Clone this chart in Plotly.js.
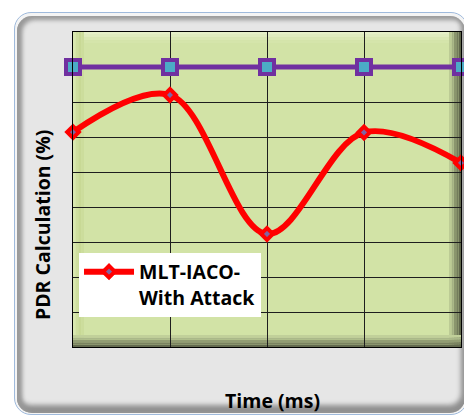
<!DOCTYPE html>
<html>
<head>
<meta charset="utf-8">
<script src="https://cdn.plot.ly/plotly-3.0.1.min.js"></script>
<style>
  html, body { margin: 0; padding: 0; background: #ffffff; overflow: hidden; }
  #wrap { position: relative; width: 464px; height: 419px; }
  #frameOuter {
    position: absolute; left: 14px; top: 12px; width: 452px; height: 401px;
    border: 1px solid #9fbadc; border-radius: 17px; background: #f4f4f4;
  }
  #frameInner {
    position: absolute; left: 2px; top: 3px; right: 2px; bottom: 1px;
    border-radius: 15px; background: #e6e6e6;
    box-shadow: inset 3px 2px 4px 2px #9a9a9a, inset -1px -5px 5px 3px #8f8f8f;
  }
  #chart { position: absolute; left: 0; top: 0; width: 464px; height: 419px; }
</style>
</head>
<body>
<div id="wrap">
  <div id="frameOuter"><div id="frameInner"></div></div>
  <div id="chart"></div>
</div>
<script>
// Time steps along the x axis (no tick labels are shown)
const timeSteps = [1, 2, 3, 4, 5];
// PDR (%) of the reference protocol, flat across the run
const pdrBaseline = [80, 80, 80, 80, 80];
// PDR (%) of MLT-IACO while under attack
const pdrWithAttack = [61.4, 72.0, 32.3, 61.3, 52.6];

const legendLabel = 'MLT-IACO-<br>With Attack';
const fontFamily = '"Open Sans", Lato, "DejaVu Sans", sans-serif';

// Bevelled edge of the plot area, drawn as thin bands in axis-domain units
const plotW = 388, plotH = 315;
function bands(side, colors, px) {
  const out = [];
  const n = colors.length;
  for (let i = 0; i < n; i++) {
    const a = i * px / n, b = (i + 1) * px / n;
    let s = { type: 'rect', xref: 'x domain', yref: 'y domain', layer: 'below',
              line: { width: 0 }, fillcolor: colors[i] };
    if (side === 'top')    Object.assign(s, { x0: 0, x1: 1, y0: 1 - b / plotH, y1: 1 - a / plotH });
    if (side === 'left')   Object.assign(s, { x0: a / plotW, x1: b / plotW, y0: 0, y1: 1 });
    if (side === 'right')  Object.assign(s, { x0: 1 - b / plotW, x1: 1 - a / plotW, y0: 0, y1: 1 });
    if (side === 'bottom') Object.assign(s, { x0: 0, x1: 1, y0: a / plotH, y1: b / plotH });
    out.push(s);
  }
  return out;
}
const shapes = [].concat(
  bands('top',    ['#e6f0c8', '#e0ecbe', '#dae8b3', '#d5e5ab'], 11),
  bands('left',   ['#d9e8b0', '#cfdf9f', '#c8d995', '#ccdd9c'], 11),
  bands('right',  ['#5f664b', '#737c5b', '#8a956d', '#a4b183', '#bccb95'], 12),
  bands('bottom', ['#646b4f', '#7a8360', '#929d73', '#aab889', '#c1d09a'], 12)
);

const traces = [
  {
    x: timeSteps, y: pdrBaseline, type: 'scatter', mode: 'lines+markers',
    name: 'MLT-IACO', showlegend: false, cliponaxis: false,
    line: { color: '#7030a0', width: 5 },
    marker: { symbol: 'square', size: 14, color: '#4bacc6', line: { color: '#7030a0', width: 4 } }
  },
  {
    x: timeSteps, y: pdrWithAttack, type: 'scatter', mode: 'lines+markers',
    name: legendLabel, cliponaxis: false,
    line: { color: '#ff0000', width: 6, shape: 'spline', smoothing: 1 },
    marker: { symbol: 'diamond', size: 9, color: '#8064a2', line: { color: '#ff0000', width: 4 } }
  }
];

const layout = {
  width: 464, height: 419,
  margin: { l: 73, r: 3, t: 32, b: 72, pad: 0 },
  paper_bgcolor: 'rgba(0,0,0,0)',
  plot_bgcolor: '#d2e3a6',
  font: { family: fontFamily, color: '#000000' },
  showlegend: true,
  xaxis: {
    range: [1, 5], dtick: 1, tick0: 1, showticklabels: false, ticks: '',
    showgrid: true, gridcolor: '#1e1e1e', gridwidth: 1,
    showline: true, linecolor: '#000000', linewidth: 1, mirror: true, zeroline: false
  },
  yaxis: {
    range: [0, 90], dtick: 10, tick0: 0, showticklabels: false, ticks: '',
    showgrid: true, gridcolor: '#1e1e1e', gridwidth: 1,
    showline: true, linecolor: '#000000', linewidth: 1, mirror: true, zeroline: false
  },
  legend: {
    x: 0.0155, y: 0.3, xanchor: 'left', yanchor: 'top',
    bgcolor: '#ffffff', borderwidth: 0, valign: 'top', itemwidth: 50,
    font: { family: fontFamily, size: 19.5, color: '#000000', weight: 'bold' }
  },
  shapes: shapes,
  annotations: [
    {
      text: '<b>PDR Calculation (%)</b>', xref: 'paper', yref: 'paper',
      x: -0.08, y: 0.39, xanchor: 'center', yanchor: 'middle', textangle: -90,
      showarrow: false, font: { family: fontFamily, size: 19.5, color: '#000000' }
    },
    {
      text: '<b>Time (ms)</b>', xref: 'paper', yref: 'paper',
      x: 0.513, y: -0.171, xanchor: 'center', yanchor: 'middle',
      showarrow: false, font: { family: fontFamily, size: 19.5, color: '#000000' }
    }
  ]
};

Plotly.newPlot('chart', traces, layout, { displayModeBar: false, staticPlot: true });
</script>
</body>
</html>
